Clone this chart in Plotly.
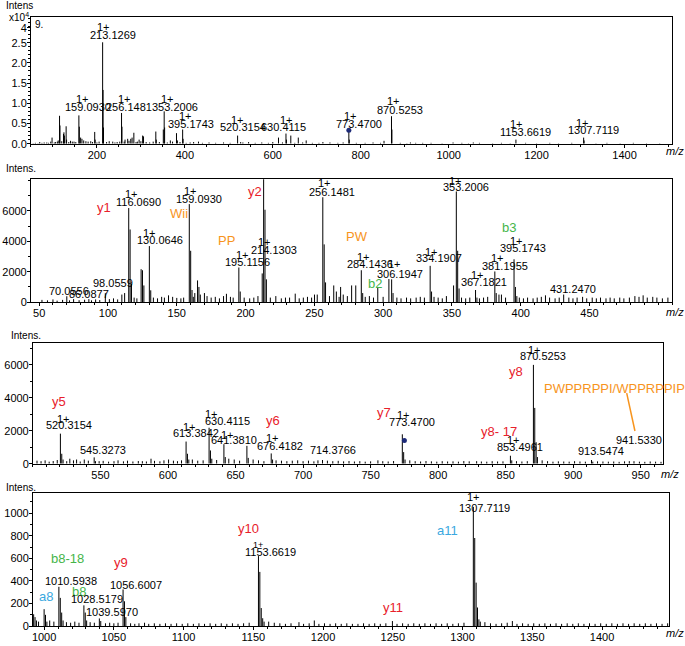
import plotly.graph_objects as go

W, H = 685, 646
FONT = "Arial, Liberation Sans, sans-serif"
RED, ORANGE, GREEN, BLUE = "#e8202a", "#f7941d", "#45b549", "#3aa8e0"

# ---------------- Panel 1: full MS/MS overview (x10^4) ----------------
p1_mz = [70, 86, 98, 110, 112, 115, 116, 124, 125, 126,
         130, 131, 144, 159, 160, 163, 166, 170, 186, 195,
         196, 213, 214, 215, 236, 252, 256, 257, 264, 270,
         277, 280, 284, 296, 304, 306, 334, 335, 351, 353,
         354, 367, 381, 383, 395, 396, 431, 520, 527, 545,
         613, 630, 631, 641, 658, 676, 714, 773, 774, 853,
         870, 871, 913, 941, 1010, 1056, 1153, 1307, 1308]
p1_int = [0.04, 0.03, 0.15, 0.05, 0.08, 0.69, 0.45, 0.24, 0.28, 0.2,
          0.43, 0.1, 0.05, 0.70, 0.42, 0.15, 0.12, 0.08, 0.06, 0.29,
          0.1, 2.51, 1.33, 0.4, 0.05, 0.05, 0.76, 0.42, 0.1, 0.12,
          0.12, 0.15, 0.27, 0.1, 0.2, 0.18, 0.30, 0.1, 0.35, 0.80,
          0.4, 0.08, 0.26, 0.08, 0.35, 0.12, 0.05, 0.2, 0.04, 0.04,
          0.15, 0.25, 0.1, 0.2, 0.15, 0.08, 0.04, 0.33, 0.1, 0.07,
          0.68, 0.35, 0.03, 0.02, 0.03, 0.03, 0.1, 0.15, 0.08]
p1_noise_mz = [55, 60, 66, 75, 80, 90, 95, 103, 106, 120,
               136, 140, 148, 152, 175, 180, 190, 200, 205, 222,
               228, 241, 246, 262, 273, 289, 292, 300, 312, 320,
               328, 342, 360, 372, 389, 403, 412, 420, 440, 455,
               470, 488, 503, 532, 560, 575, 590, 600, 622, 650,
               668, 690, 705, 730, 748, 760, 790, 810, 828, 845,
               890, 905, 925, 960, 985, 1030, 1045, 1070, 1100, 1120,
               1140, 1175, 1200, 1230, 1250, 1280, 1335, 1360, 1390, 1420,
               1450, 1480]
p1_noise_int = [0.01, 0.02, 0.01, 0.02, 0.03, 0.02, 0.05, 0.03, 0.04, 0.06,
                0.04, 0.07, 0.05, 0.04, 0.06, 0.05, 0.04, 0.03, 0.05, 0.04,
                0.06, 0.03, 0.04, 0.05, 0.07, 0.04, 0.05, 0.06, 0.04, 0.03,
                0.05, 0.04, 0.03, 0.05, 0.04, 0.02, 0.03, 0.04, 0.02, 0.03,
                0.02, 0.03, 0.02, 0.03, 0.02, 0.03, 0.02, 0.04, 0.03, 0.02,
                0.03, 0.02, 0.02, 0.03, 0.02, 0.03, 0.02, 0.02, 0.03, 0.02,
                0.02, 0.01, 0.02, 0.02, 0.01, 0.02, 0.01, 0.02, 0.01, 0.02,
                0.01, 0.02, 0.01, 0.02, 0.01, 0.02, 0.01, 0.02, 0.01, 0.02,
                0.01, 0.01]
p1_ytick_vals = [0, 0.5, 1.0, 1.5, 2.0, 2.5, 2.87]
p1_ytick_text = ["0.0", "0.5", "1.0", "1.5", "2.0", "2.5", "4"]
p1_xticks = [200, 400, 600, 800, 1000, 1200, 1400]

# ---------------- Panel 2: m/z 44-510 ----------------
p2_mz = [70.06, 86.09, 98.06, 110.07, 112.09, 115.07, 116.07, 117.07, 124.08, 125.08,
         126.09, 130.06, 131.07, 159.09, 160.10, 161.10, 163.1, 165.1, 166.1, 167.1,
         170.1, 186.1, 195.12, 196.12, 212.1, 213.13, 214.13, 215.13, 236.1, 250.1,
         252.1, 256.15, 257.15, 258.15, 264.1, 269.1, 277.1, 280.1, 284.14, 285.15,
         296.1, 304.2, 306.19, 307.2, 334.19, 335.2, 351.2, 353.20, 354.2, 355.2,
         367.18, 368.2, 381.20, 382.2, 384.2, 395.17, 396.18, 397.2, 431.25]
p2_int = [390, 200, 590, 500, 600, 6190, 4780, 1200, 2170, 2100,
          1100, 3690, 780, 6450, 3380, 800, 600, 1430, 1000, 500,
          600, 550, 2280, 700, 1890, 9800, 6080, 1500, 560, 500,
          500, 6900, 3800, 1300, 1100, 1000, 1100, 1100, 2100, 600,
          970, 1520, 1500, 600, 2390, 700, 1100, 7280, 3380, 900,
          800, 300, 2020, 600, 500, 2820, 1000, 400, 500]
p2_noise_mz = [52, 56, 60, 63, 67, 72, 75, 79, 83, 88,
               91, 94, 101, 104, 107, 119, 121, 133, 136, 139,
               141, 144, 147, 150, 153, 155, 162, 172, 175, 178,
               181, 184, 189, 191, 199, 203, 206, 209, 218, 222,
               226, 229, 232, 239, 242, 245, 248, 261, 266, 268,
               271, 274, 287, 290, 293, 300, 310, 313, 317, 320,
               324, 327, 330, 337, 340, 343, 346, 357, 360, 363,
               370, 373, 376, 386, 389, 399, 402, 405, 409, 412,
               415, 418, 421, 425, 428, 435, 438, 441, 445, 448,
               452, 455, 458, 462, 465, 468, 472, 475, 479, 483,
               486, 489, 492, 496, 499, 503, 507]
p2_noise_int = [150, 120, 180, 100, 150, 120, 200, 130, 160, 120,
                180, 140, 200, 250, 180, 300, 250, 300, 250, 350,
                300, 450, 350, 280, 250, 300, 350, 400, 300, 350,
                250, 400, 350, 300, 300, 250, 300, 400, 300, 400,
                250, 300, 300, 250, 300, 350, 300, 400, 700, 350,
                500, 400, 350, 400, 300, 350, 300, 250, 300, 250,
                300, 350, 300, 350, 300, 250, 400, 300, 250, 300,
                250, 300, 350, 500, 300, 300, 250, 300, 250, 300,
                350, 450, 300, 250, 300, 300, 250, 300, 350, 250,
                300, 250, 300, 250, 300, 250, 300, 250, 300, 400,
                350, 450, 300, 350, 300, 250, 300]
p2_xticks = [50, 100, 150, 200, 250, 300, 350, 400, 450]
p2_yticks = [0, 2000, 4000, 6000]

# ---------------- Panel 3: m/z 500-967 ----------------
p3_mz = [520.32, 521.32, 522.3, 527.3, 532.3, 545.33, 546.3, 587.4, 600.4, 613.38,
         614.39, 615.4, 630.41, 631.41, 632.4, 641.38, 642.38, 658.4, 659.4, 676.42,
         677.4, 714.38, 755.4, 773.47, 774.47, 775.5, 828.5, 853.50, 854.5, 870.53,
         871.53, 872.53, 873.5, 913.55, 914.5, 941.53]
p3_int = [1820, 600, 250, 300, 250, 380, 150, 300, 250, 1340,
          600, 250, 2180, 800, 300, 1180, 400, 1080, 350, 620,
          250, 220, 200, 1780, 700, 250, 150, 480, 200, 5990,
          3380, 1300, 400, 220, 120, 150]
p3_noise_mz = [503, 506, 509, 512, 515, 518, 525, 530, 535, 538,
               541, 549, 552, 556, 560, 563, 567, 570, 574, 578,
               581, 584, 590, 594, 597, 604, 607, 610, 618, 622,
               626, 636, 645, 649, 653, 663, 667, 671, 680, 684,
               688, 692, 696, 700, 704, 708, 711, 718, 722, 726,
               730, 734, 738, 742, 746, 750, 759, 763, 767, 779,
               783, 787, 791, 795, 799, 803, 807, 811, 815, 819,
               823, 832, 836, 840, 844, 848, 858, 862, 866, 877,
               881, 885, 889, 893, 897, 901, 905, 909, 918, 922,
               926, 930, 934, 938, 945, 949, 953, 957, 961, 965]
p3_noise_int = [180, 150, 200, 120, 160, 220, 150, 200, 130, 250,
                180, 150, 170, 120, 150, 200, 140, 180, 130, 160,
                150, 130, 170, 140, 200, 180, 150, 200, 250, 180,
                200, 220, 300, 250, 180, 250, 200, 150, 200, 180,
                150, 180, 200, 150, 180, 140, 200, 180, 150, 170,
                140, 160, 130, 150, 120, 140, 150, 130, 160, 200,
                150, 130, 160, 140, 120, 150, 130, 140, 120, 160,
                140, 130, 120, 150, 130, 140, 150, 130, 150, 200,
                150, 120, 140, 130, 120, 150, 130, 120, 140, 130,
                120, 130, 110, 140, 150, 120, 110, 130, 120, 110]
p3_xticks = [550, 600, 650, 700, 750, 800, 850, 900, 950]
p3_yticks = [0, 2000, 4000, 6000]

# ---------------- Panel 4: m/z 992-1448 ----------------
p4_mz = [992.5, 993.5, 994.5, 1000.0, 1001.0, 1002.0, 1010.59, 1011.59, 1012.6, 1013.6,
         1028.52, 1029.5, 1030.5, 1039.6, 1040.6, 1056.60, 1057.6, 1058.6, 1153.66, 1154.66,
         1155.66, 1156.7, 1157.7, 1182.7, 1193.7, 1249.7, 1307.71, 1308.71, 1309.7, 1310.7,
         1311.7, 1312.7, 1335.7]
p4_int = [105, 80, 50, 150, 100, 40, 348, 250, 120, 50,
          184, 120, 50, 68, 45, 325, 220, 80, 620, 480,
          160, 70, 40, 35, 50, 45, 1055, 780, 385, 165,
          60, 40, 45]
p4_noise_mz = [996, 1004, 1007, 1016, 1019, 1022, 1025, 1033, 1036, 1044,
               1047, 1050, 1053, 1062, 1065, 1068, 1072, 1075, 1079, 1083,
               1087, 1091, 1095, 1099, 1103, 1107, 1111, 1115, 1119, 1123,
               1127, 1131, 1135, 1139, 1143, 1147, 1161, 1165, 1169, 1173,
               1177, 1186, 1190, 1197, 1201, 1205, 1209, 1213, 1217, 1221,
               1225, 1229, 1233, 1237, 1241, 1245, 1253, 1257, 1261, 1265,
               1269, 1273, 1277, 1281, 1285, 1289, 1293, 1297, 1301, 1316,
               1320, 1324, 1328, 1332, 1339, 1343, 1347, 1351, 1355, 1359,
               1363, 1367, 1371, 1375, 1379, 1383, 1387, 1391, 1395, 1399,
               1403, 1407, 1411, 1415, 1419, 1423, 1427, 1431, 1435, 1439,
               1443, 1447]
p4_noise_int = [40, 50, 40, 35, 30, 40, 30, 35, 30, 25,
                30, 25, 30, 25, 20, 25, 30, 20, 25, 20,
                25, 20, 25, 20, 25, 20, 25, 20, 25, 20,
                25, 20, 25, 20, 25, 30, 40, 30, 25, 20,
                25, 20, 25, 20, 25, 20, 25, 20, 25, 20,
                20, 25, 20, 25, 20, 25, 20, 25, 20, 25,
                20, 25, 20, 25, 20, 25, 20, 25, 30, 35,
                25, 20, 25, 30, 20, 25, 20, 25, 20, 25,
                20, 25, 20, 25, 20, 25, 20, 25, 20, 25,
                20, 25, 20, 25, 20, 25, 20, 25, 20, 25,
                20, 25]
p4_xticks = [1000, 1050, 1100, 1150, 1200, 1250, 1300, 1350, 1400]
p4_yticks = [0, 200, 400, 600, 800, 1000]

# precursor markers (blue dots)
p1_dot = ([773], [0.33])
p3_dot = ([775], [1400])


def sticks(mz_lists, int_lists):
    xs, ys = [], []
    for mzs, ints in zip(mz_lists, int_lists):
        for m, v in zip(mzs, ints):
            xs += [m, m, None]
            ys += [0, v, None]
    return xs, ys


fig = go.Figure()
panels = [
    ((p1_mz, p1_noise_mz), (p1_int, p1_noise_int), "x", "y"),
    ((p2_mz, p2_noise_mz), (p2_int, p2_noise_int), "x2", "y2"),
    ((p3_mz, p3_noise_mz), (p3_int, p3_noise_int), "x3", "y3"),
    ((p4_mz, p4_noise_mz), (p4_int, p4_noise_int), "x4", "y4"),
]
for mzl, intl, xa, ya in panels:
    xs, ys = sticks(mzl, intl)
    fig.add_trace(go.Scatter(x=xs, y=ys, mode="lines", xaxis=xa, yaxis=ya,
                             line=dict(color="black", width=1), hoverinfo="skip",
                             showlegend=False))

fig.add_trace(go.Scatter(x=p1_dot[0], y=p1_dot[1], mode="markers", xaxis="x", yaxis="y",
                         marker=dict(color="#1d2a78", size=5), showlegend=False))
fig.add_trace(go.Scatter(x=p3_dot[0], y=p3_dot[1], mode="markers", xaxis="x3", yaxis="y3",
                         marker=dict(color="#1d2a78", size=5), showlegend=False))


def dom_x(a, b):
    return [a / W, b / W]


def dom_y(top, bot):
    return [1 - bot / H, 1 - top / H]


def ax(domain, rng, tickvals, ticktext=None, minor_dtick=None, anchor=None):
    d = dict(domain=domain, range=rng, showline=True, linecolor="black", linewidth=1,
             mirror=True, ticks="outside", ticklen=3, tickwidth=1, tickcolor="black",
             showgrid=False, zeroline=False, tickmode="array", tickvals=tickvals,
             ticklabelstandoff=-2,
             tickfont=dict(size=11, color="black", family=FONT), anchor=anchor)
    if ticktext is not None:
        d["ticktext"] = ticktext
    if minor_dtick is not None:
        d["minor"] = dict(tickmode="linear", tick0=0, dtick=minor_dtick, ticks="outside",
                          ticklen=2, tickcolor="black", showgrid=False)
    return d


fig.update_layout(
    width=W, height=H, autosize=False, margin=dict(l=0, r=0, t=0, b=0),
    paper_bgcolor="white", plot_bgcolor="white", showlegend=False,
    font=dict(family=FONT, color="black"),
    xaxis=ax(dom_x(30, 672), [50, 1508], p1_xticks, minor_dtick=50, anchor="y"),
    yaxis=ax(dom_y(17, 145), [0, 3.14], p1_ytick_vals, p1_ytick_text, minor_dtick=0.1, anchor="x"),
    xaxis2=ax(dom_x(30, 672), [44, 510], p2_xticks, minor_dtick=10, anchor="y2"),
    yaxis2=ax(dom_y(181, 305), [0, 8080], p2_yticks, minor_dtick=1000, anchor="x2"),
    xaxis3=ax(dom_x(32, 663), [500, 966.5], p3_xticks, minor_dtick=10, anchor="y3"),
    yaxis3=ax(dom_y(346, 468), [0, 7330], p3_yticks, minor_dtick=1000, anchor="x3"),
    xaxis4=ax(dom_x(32, 669), [992, 1448], p4_xticks, minor_dtick=10, anchor="y4"),
    yaxis4=ax(dom_y(498, 632), [0, 1175], p4_yticks, minor_dtick=100, anchor="x4"),
)

K = "black"
labels = {
    ("x", "y"): [
        ("1+", 215, 2.89, K, 11), ("213.1269", 235.7, 2.70, K, 11),
        ("1+", 167, 1.10, K, 11), ("159.0930", 179, 0.91, K, 11),
        ("1+", 263, 1.10, K, 11), ("256.1481", 272, 0.91, K, 11),
        ("1+", 360, 1.10, K, 11), ("353.2006", 377, 0.91, K, 11),
        ("1+", 401, 0.69, K, 11), ("395.1743", 415, 0.49, K, 11),
        ("1+", 520, 0.59, K, 11), ("520.3154", 533, 0.42, K, 11),
        ("1+", 631, 0.59, K, 11), ("630.4115", 625, 0.42, K, 11),
        ("1+", 777, 0.69, K, 11), ("773.4700", 795, 0.49, K, 11),
        ("1+", 874, 1.05, K, 11), ("870.5253", 890, 0.83, K, 11),
        ("1+", 1154, 0.49, K, 11), ("1153.6619", 1174, 0.30, K, 11),
        ("1+", 1304, 0.51, K, 11), ("1307.7119", 1329, 0.34, K, 11),
    ],
    ("x2", "y2"): [
        ("y1", 97, 6250, RED, 13), ("1+", 117, 7100, K, 11), ("116.0690", 122.3, 6580, K, 11),
        ("Wii", 151.4, 5860, ORANGE, 13), ("1+", 160, 7300, K, 11), ("159.0930", 166, 6800, K, 11),
        ("y2", 206.5, 7300, RED, 13),
        ("1+", 130.3, 4560, K, 11), ("130.0646", 137.6, 4100, K, 11),
        ("PP", 186, 4040, ORANGE, 13), ("1+", 197.8, 3130, K, 11), ("195.1156", 201.4, 2670, K, 11),
        ("1+", 213.8, 3970, K, 11), ("214.1303", 221, 3450, K, 11),
        ("1+", 257.3, 7820, K, 11), ("256.1481", 263, 7230, K, 11),
        ("70.0556", 71.5, 720, K, 11), ("86.0877", 86, 540, K, 11), ("98.0559", 103.5, 1240, K, 11),
        ("1+", 352.5, 7950, K, 11), ("353.2006", 360, 7560, K, 11),
        ("PW", 281, 4300, ORANGE, 13), ("b3", 391.7, 4890, GREEN, 13),
        ("1+", 396.7, 4040, K, 11), ("395.1743", 402, 3540, K, 11),
        ("1+", 285.7, 3000, K, 11), ("284.1436", 290.8, 2540, K, 11),
        ("1+", 335, 3320, K, 11), ("334.1907", 340.9, 2890, K, 11),
        ("1+", 308, 2480, K, 11), ("306.1947", 312.6, 1850, K, 11),
        ("b2", 294, 1240, GREEN, 13),
        ("1+", 383, 2930, K, 11), ("381.1955", 388.4, 2410, K, 11),
        ("1+", 368.4, 1760, K, 11), ("367.1821", 373.5, 1300, K, 11),
        ("431.2470", 437.7, 870, K, 11),
    ],
    ("x3", "y3"): [
        ("y5", 519, 3780, RED, 13), ("1+", 522.5, 2700, K, 11), ("520.3154", 527, 2340, K, 11),
        ("545.3273", 552, 840, K, 11),
        ("1+", 632, 3000, K, 11), ("630.4115", 644.4, 2580, K, 11),
        ("1+", 615.6, 2220, K, 11), ("613.3842", 620.4, 1880, K, 11),
        ("1+", 644, 1740, K, 11), ("641.3810", 648.8, 1440, K, 11),
        ("y6", 677.6, 2640, RED, 13), ("1+", 677.6, 1560, K, 11), ("676.4182", 683, 1080, K, 11),
        ("714.3766", 722, 840, K, 11),
        ("y7", 759.6, 3120, RED, 13), ("1+", 774.4, 2940, K, 11), ("773.4700", 780.3, 2540, K, 11),
        ("y8", 857.8, 5590, RED, 13), ("1+", 871, 6900, K, 11), ("870.5253", 877.8, 6550, K, 11),
        ("y8- 17", 844.9, 1980, RED, 13), ("1+", 855.6, 1440, K, 11), ("853.4961", 860.4, 1020, K, 11),
        ("913.5474", 920.9, 780, K, 11), ("941.5330", 948.7, 1440, K, 11),
        ("PWPPRPPI/WPPRPPIP", 930.2, 4580, ORANGE, 13),
    ],
    ("x4", "y4"): [
        ("y10", 1146.5, 860, RED, 13), ("1+", 1153, 720, K, 9), ("1153.6619", 1162, 652, K, 11),
        ("b8-18", 1016.8, 596, GREEN, 13), ("y9", 1054.8, 561, RED, 13),
        ("1010.5938", 1019.3, 397, K, 11), ("1056.6007", 1065.6, 368, K, 11),
        ("a8", 1001, 263, BLUE, 13), ("b8", 1024.7, 307, GREEN, 13),
        ("1028.5179", 1037.6, 237, K, 11), ("1039.5970", 1048.4, 123, K, 11),
        ("1+", 1307.7, 1140, K, 11), ("1307.7119", 1315.9, 1044, K, 11),
        ("a11", 1289, 842, BLUE, 13), ("y11", 1250.4, 167, RED, 13),
    ],
}
for (xr, yr), items in labels.items():
    for text, x, y, col, size in items:
        fig.add_annotation(text=text, x=x, y=y, xref=xr, yref=yr, showarrow=False,
                           font=dict(size=size, color=col, family=FONT))

# orange leader line for PWPPRPPI/WPPRPPIP
fig.add_shape(type="line", xref="x3", yref="y3", x0=939.6, y0=4280, x1=945.7, y1=1980,
              line=dict(color=ORANGE, width=1.5))

# paper texts: axis titles
paper_texts = [
    ("Intens", 3, 6, 10), ("x10<sup>4</sup>", 6, 17, 10), ("9.", 32, 25, 10),
    ("Intens.", 3, 170, 10), ("Intens.", 8, 339, 10), ("Intens.", 3, 492, 10),
    ("<i>m/z</i>", 664, 152, 11), ("<i>m/z</i>", 664, 315, 11),
    ("<i>m/z</i>", 659, 478, 11), ("<i>m/z</i>", 664, 639, 11),
]
for text, px, py, size in paper_texts:
    fig.add_annotation(text=text, x=px / W, y=1 - py / H, xref="paper", yref="paper",
                       xanchor="left", yanchor="middle", showarrow=False,
                       font=dict(size=size, color="black", family=FONT))

fig.write_html("out.html", config={"displayModeBar": False},
               post_script="document.body.style.margin='0';document.body.style.overflow='hidden';")
